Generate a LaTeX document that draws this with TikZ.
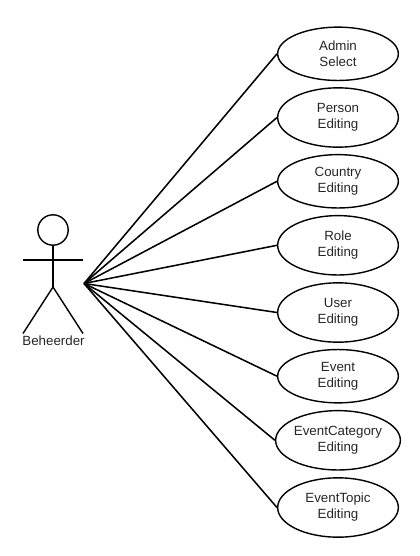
\documentclass[tikz,border=0pt]{standalone}
\usepackage{fontspec}
\setmainfont{Liberation Sans}
\usetikzlibrary{shapes.geometric}
\tikzset{
  x=0.75pt,y=-0.75pt,
  uc/.style={draw=black,line width=1.05pt,ellipse,minimum width=90.5pt,minimum height=44.5pt,inner sep=0pt,align=center,font=\fontsize{10pt}{12pt}\selectfont,text=black!85},
  ucs/.style={uc,minimum height=40pt},
  lbl/.style={inner sep=0pt,font=\fontsize{10pt}{12pt}\selectfont,text=black!85},
  head/.style={draw=black,line width=1.05pt,circle,minimum size=22.8pt,inner sep=0pt},
  limb/.style={draw=black,line width=1.05pt},
  assoc/.style={draw=black,line width=1.15pt}
}
\begin{document}
\begin{tikzpicture}
\useasboundingbox (0,0) rectangle (420,556);
\node[ucs] (a) at (338,53.8) {Admin\\Select};
\node[uc] (b) at (338,117.5) {Person\\Editing};
\node[ucs] (c) at (338,181.3) {Country\\Editing};
\node[uc] (d) at (338,245.3) {Role\\Editing};
\node[uc] (e) at (338,312.5) {User\\Editing};
\node[ucs] (f) at (338,376.2) {Event\\Editing};
\node[uc] (g) at (338,440.3) {EventCategory\\Editing};
\node[uc] (h) at (338,507.5) {EventTopic\\Editing};
\node[head] (hd) at (53,230) {};
\coordinate (hip) at (53,287);
\coordinate (al) at (23,260);
\coordinate (ar) at (83,260);
\coordinate (fl) at (23,333.5);
\coordinate (fr) at (83,333.5);
\coordinate (hub) at (84,283.5);
\draw[limb] (hd.south) -- (hip);
\draw[limb] (al) -- (ar);
\draw[limb] (fl) -- (hip) -- (fr);
\node[lbl] (name) at (53.5,340.5) {Beheerder};
\foreach \n in {a,b,c,d,e,f,g,h} \draw[assoc] (hub) -- (\n.west);
\end{tikzpicture}
\end{document}
